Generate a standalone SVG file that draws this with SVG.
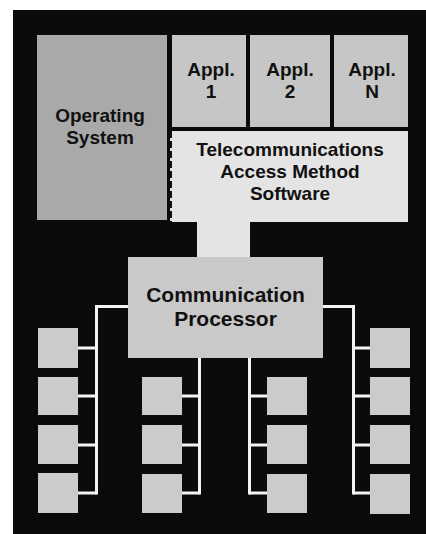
<svg xmlns="http://www.w3.org/2000/svg" width="426" height="534" viewBox="0 0 426 534">
<style>
text{font-family:"Liberation Sans",Arial,sans-serif;font-weight:bold;fill:#111;text-anchor:middle}
.t21{font-size:19px}
.t23{font-size:21px}
.term{fill:#cbcbcb}
.wire{stroke:#f4f4f4;stroke-width:3;fill:none}
</style>
<rect x="0" y="0" width="426" height="534" fill="#ffffff"/>
<rect x="13" y="10" width="413" height="524" fill="#0b0b0b"/>

<g id="os">
<rect x="37" y="35" width="130" height="185" fill="#a9a9a9"/>
<text class="t21" x="100" y="122">Operating</text>
<text class="t21" x="100" y="144">System</text>
</g>
<g id="appl1">
<rect x="172" y="35" width="74" height="92" fill="#c6c6c6"/>
<text class="t21" x="211" y="76">Appl.</text>
<text class="t21" x="211" y="98">1</text>
</g>
<g id="appl2">
<rect x="250" y="35" width="80" height="92" fill="#c6c6c6"/>
<text class="t21" x="290" y="76">Appl.</text>
<text class="t21" x="290" y="98">2</text>
</g>
<g id="applN">
<rect x="334" y="35" width="74" height="92" fill="#c6c6c6"/>
<text class="t21" x="372" y="76">Appl.</text>
<text class="t21" x="372" y="98">N</text>
</g>
<g id="tcam">
<rect x="170" y="131" width="238" height="91" fill="#e4e4e4"/>
<line x1="171" y1="131" x2="171" y2="222" stroke="#111" stroke-width="2" stroke-dasharray="7,3"/>
<text class="t21" x="290" y="156">Telecommunications</text>
<text class="t21" x="290" y="178">Access Method</text>
<text class="t21" x="290" y="200">Software</text>
</g>

<g id="connectors">
<rect x="197" y="221" width="53" height="37" fill="#e4e4e4"/>
<path class="wire" d="M128,306.5 H96.5 V494.5"/>
<path class="wire" d="M78,348 H96.5 M78,396 H96.5 M78,445 H96.5 M78,493 H96.5"/>
<path class="wire" d="M199.5,358 V494.5"/>
<path class="wire" d="M182,396 H199.5 M182,445 H199.5 M182,493 H199.5"/>
<path class="wire" d="M249.5,358 V494.5"/>
<path class="wire" d="M249.5,396 H267 M249.5,445 H267 M249.5,493 H267"/>
<path class="wire" d="M323,306.5 H353.5 V494.5"/>
<path class="wire" d="M353.5,348 H370 M353.5,396 H370 M353.5,445 H370 M353.5,493 H370"/>
</g>

<g id="cp">
<rect x="128" y="257" width="195" height="101" fill="#c9c9c9"/>
<text class="t23" x="225.5" y="302">Communication</text>
<text class="t23" x="225.5" y="326">Processor</text>
</g>

<g id="term-l1"><rect class="term" x="38" y="328" width="40" height="40"/></g>
<g id="term-l2"><rect class="term" x="38" y="377" width="40" height="38"/></g>
<g id="term-l3"><rect class="term" x="38" y="425" width="40" height="39"/></g>
<g id="term-l4"><rect class="term" x="38" y="473" width="40" height="40"/></g>
<g id="term-cl1"><rect class="term" x="142" y="377" width="40" height="38"/></g>
<g id="term-cl2"><rect class="term" x="142" y="425" width="40" height="39"/></g>
<g id="term-cl3"><rect class="term" x="142" y="474" width="40" height="39"/></g>
<g id="term-cr1"><rect class="term" x="267" y="377" width="40" height="38"/></g>
<g id="term-cr2"><rect class="term" x="267" y="425" width="40" height="39"/></g>
<g id="term-cr3"><rect class="term" x="267" y="474" width="40" height="39"/></g>
<g id="term-r1"><rect class="term" x="370" y="328" width="40" height="40"/></g>
<g id="term-r2"><rect class="term" x="370" y="377" width="40" height="38"/></g>
<g id="term-r3"><rect class="term" x="370" y="425" width="40" height="39"/></g>
<g id="term-r4"><rect class="term" x="370" y="474" width="40" height="40"/></g>
</svg>
